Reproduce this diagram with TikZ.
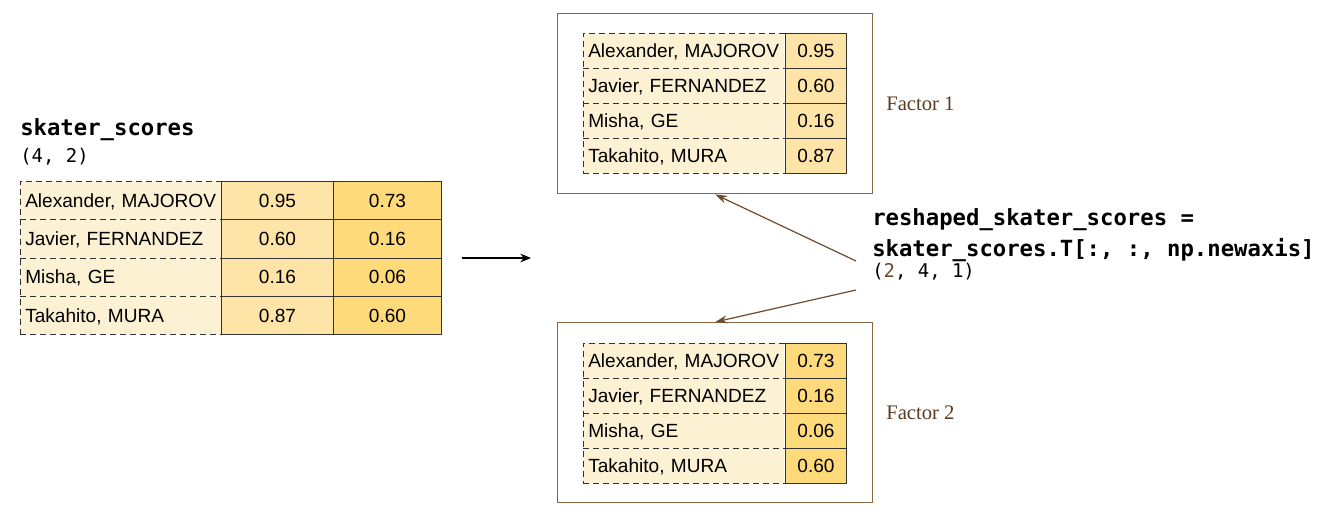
\documentclass[tikz,border=0pt]{standalone}
\usepackage{fontspec}
\setmainfont{Liberation Sans}
\newfontfamily\codefont{DejaVu Sans Mono}
\newfontfamily\factorfont{Liberation Serif}
\usetikzlibrary{arrows.meta}
\definecolor{namefill}{HTML}{FDF1D3}
\definecolor{colA}{HTML}{FEE4A6}
\definecolor{colB}{HTML}{FFDA7B}
\definecolor{boxline}{HTML}{8A6540}
\definecolor{arrowbrown}{HTML}{6E4A2C}
\definecolor{factortext}{HTML}{5A3A22}
\definecolor{cellline}{HTML}{333333}
\tikzset{
  namecell/.style={fill=namefill, anchor=north west, inner xsep=5*0.75pt, inner ysep=0pt,
    text width=191*0.75pt, align=left, minimum width=201*0.75pt,
    text height=10.3pt, text depth=0pt,
    font=\fontsize{14.3}{16}\selectfont},
  valcell/.style={draw=cellline, line width=0.75pt, anchor=north west, inner sep=0pt,
    text height=10.3pt, text depth=0pt,
    font=\fontsize{14.3}{16}\selectfont},
  dashline/.style={draw=black!80, line width=0.75pt, dash pattern=on 4.5pt off 3pt},
  framebox/.style={draw=boxline, line width=1.1pt, fill=white, anchor=north west,
    minimum width=315*0.75pt, minimum height=180*0.75pt, inner sep=0pt},
  codebig/.style={anchor=base west, inner sep=0pt, font=\codefont\bfseries\fontsize{16.7}{20}\selectfont},
  codesmall/.style={anchor=base west, inner sep=0pt, font=\codefont\fontsize{14.2}{17}\selectfont},
  factorlabel/.style={anchor=base west, inner sep=0pt, text=factortext, font=\factorfont\fontsize{15.5}{18}\selectfont},
  brownarrow/.style={draw=arrowbrown, line width=0.9pt, -{Stealth[length=9pt,width=6pt,inset=3pt]}},
  blackarrow/.style={draw=black, line width=1pt, -{Stealth[length=8pt,width=6.5pt,inset=2.5pt]}}
}
\begin{document}
\begin{tikzpicture}[x=0.75pt,y=-0.75pt]
\useasboundingbox (0,0) rectangle (1322,518);

% ---------- left table ----------
\node[codebig] (title) at (20,135) {skater\_scores};
\node[codesmall] (shape) at (20,162) {(4, 2)};
\foreach \nm/\a/\b [count=\r from 0] in {{Alexander, MAJOROV}/0.95/0.73,{Javier, FERNANDEZ}/0.60/0.16,{Misha, GE}/0.16/0.06,{Takahito, MURA}/0.87/0.60}{
  \node[namecell, minimum height=38.25*0.75pt] (Ln\r) at (20,{181+38.25*\r}) {\nm};
  \node[valcell, fill=colA, minimum width=112*0.75pt, minimum height=38.25*0.75pt] (La\r) at (221,{181+38.25*\r}) {\a};
  \node[valcell, fill=colB, minimum width=108*0.75pt, minimum height=38.25*0.75pt] (Lb\r) at (333,{181+38.25*\r}) {\b};
}
\foreach \r in {0,...,3}{\draw[dashline] (Ln\r.south west) -- (Ln\r.south east);}
\draw[dashline] (Ln0.north east) -- (Ln0.north west) -- (Ln3.south west);

% ---------- arrow ----------
\coordinate (hs) at (462,258);
\coordinate (he) at (531,258);
\draw[blackarrow] (hs) -- (he);

% ---------- top frame ----------
\node[framebox] (box1) at (557,13) {};
\foreach \nm/\a [count=\r from 0] in {{Alexander, MAJOROV}/0.95,{Javier, FERNANDEZ}/0.60,{Misha, GE}/0.16,{Takahito, MURA}/0.87}{
  \node[namecell, minimum height=35*0.75pt] (Tn\r) at (583,{33+35*\r}) {\nm};
  \node[valcell, fill=colA, minimum width=61*0.75pt, minimum height=35*0.75pt] (Ta\r) at (785,{33+35*\r}) {\a};
}
\foreach \r in {0,...,3}{\draw[dashline] (Tn\r.south west) -- (Tn\r.south east);}
\draw[dashline] (Tn0.north east) -- (Tn0.north west) -- (Tn3.south west);
\node[factorlabel] (f1) at (886,110) {Factor 1};

% ---------- bottom frame ----------
\node[framebox] (box2) at (557,322) {};
\foreach \nm/\a [count=\r from 0] in {{Alexander, MAJOROV}/0.73,{Javier, FERNANDEZ}/0.16,{Misha, GE}/0.06,{Takahito, MURA}/0.60}{
  \node[namecell, minimum height=35*0.75pt] (Bn\r) at (583,{343+35*\r}) {\nm};
  \node[valcell, fill=colB, minimum width=61*0.75pt, minimum height=35*0.75pt] (Ba\r) at (785,{343+35*\r}) {\a};
}
\foreach \r in {0,...,3}{\draw[dashline] (Bn\r.south west) -- (Bn\r.south east);}
\draw[dashline] (Bn0.north east) -- (Bn0.north west) -- (Bn3.south west);
\node[factorlabel] (f2) at (886,419) {Factor 2};

% ---------- code label ----------
\node[codebig] (code1) at (872,225) {reshaped\_skater\_scores =};
\node[codebig] (code2) at (872,256) {skater\_scores.T[:, :, np.newaxis]};
\node[codesmall] (code3) at (872,277) {({\color{arrowbrown}2}, 4, 1)};

\coordinate (a1s) at (856,261);
\coordinate (a2s) at (856,290);
\draw[brownarrow] (a1s) -- (box1.south);
\draw[brownarrow] (a2s) -- (box2.north);
\end{tikzpicture}
\end{document}
